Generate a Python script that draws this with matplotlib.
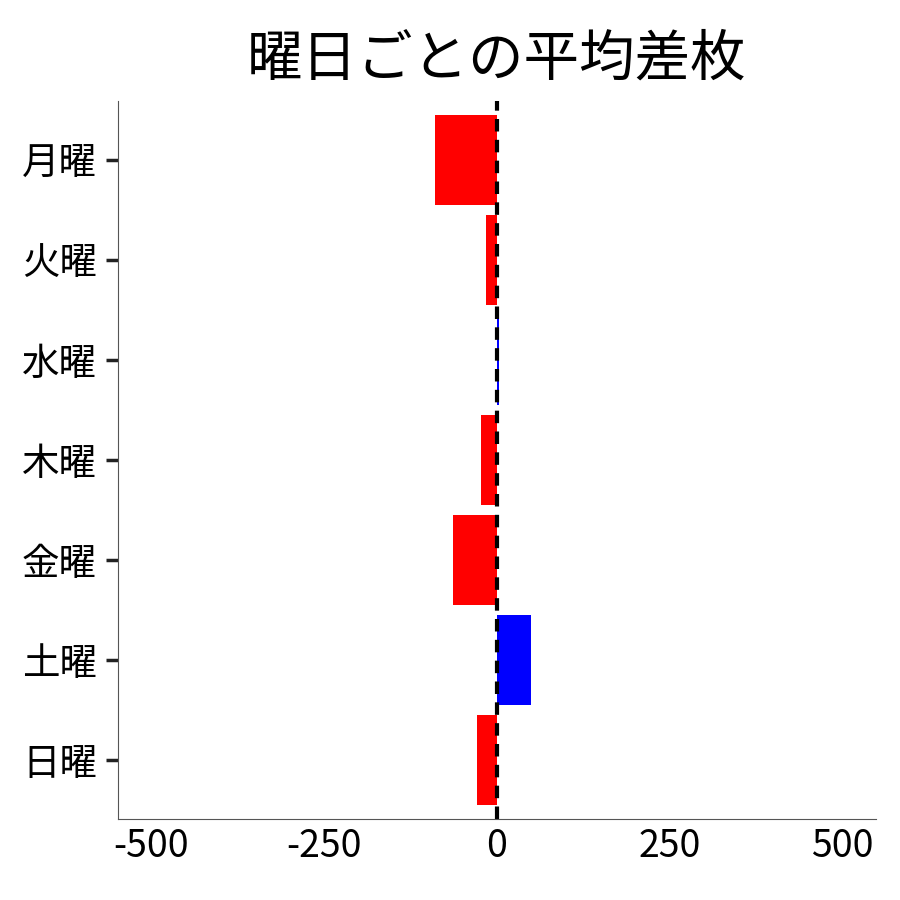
import matplotlib
matplotlib.use("Agg")
import matplotlib.pyplot as plt

plt.rcParams['font.family'] = ['Noto Sans CJK JP', 'DejaVu Sans']

days = ["月曜", "火曜", "水曜", "木曜", "金曜", "土曜", "日曜"]
diffs = [-90, -16, 3, -23, -64, 49, -29]
xticks = [-500, -250, 0, 250, 500]

fig = plt.figure(figsize=(9, 9), dpi=100)
ax = fig.add_axes([0.131, 0.09, 0.842, 0.798])
colors = ["blue" if d > 0 else "red" for d in diffs]
ax.barh(range(len(days)), diffs, height=0.9, color=colors)
ax.axvline(0, color="black", linestyle=(0, (3, 2)), linewidth=3)
ax.set_yticks(range(len(days)))
ax.set_yticklabels(days)
ax.set_ylim(len(days) - 1 + 0.59, -0.59)
ax.set_xlim(-548, 548)
ax.set_xticks(xticks)
ax.set_xticklabels([str(v) for v in xticks])
ax.tick_params(axis="y", length=9, width=2.5, color="#222222", labelsize=27, pad=6)
ax.tick_params(axis="x", length=0, labelsize=27, pad=6)
for s in ["top", "right"]:
    ax.spines[s].set_visible(False)
for s in ["left", "bottom"]:
    ax.spines[s].set_color("#555555")
ax.set_title("曜日ごとの平均差枚", fontsize=40, pad=18)
fig.savefig("out.png", dpi=100)
